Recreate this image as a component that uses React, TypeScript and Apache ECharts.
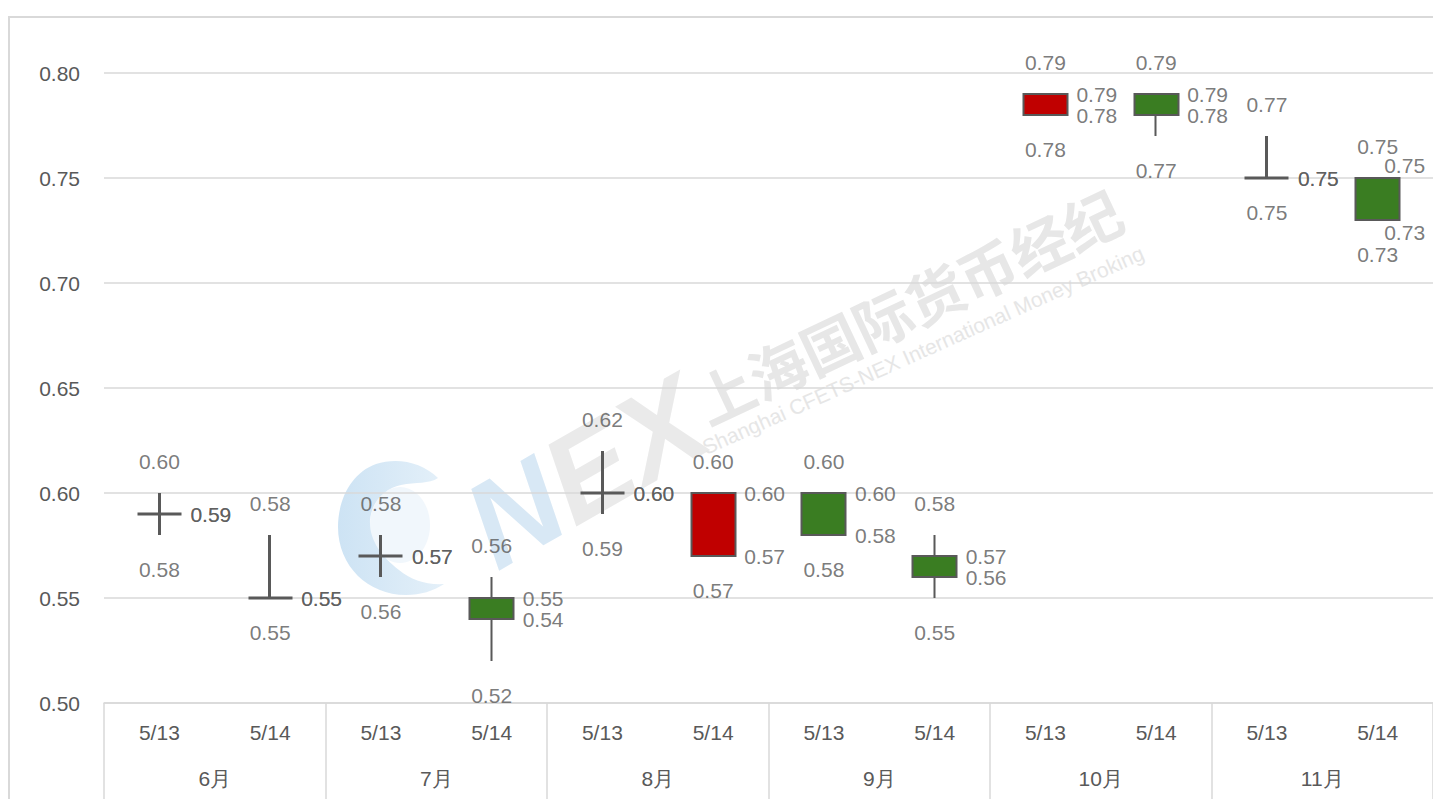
import { useEffect, useRef } from 'react';
import * as echarts from 'echarts';

const dates = ['5/13', '5/14', '5/13', '5/14', '5/13', '5/14', '5/13', '5/14', '5/13', '5/14', '5/13', '5/14'];
const months = ['6月', '7月', '8月', '9月', '10月', '11月'];
const openV = [0.59, 0.55, 0.57, 0.55, 0.60, 0.57, 0.60, 0.57, 0.78, 0.79, 0.75, 0.75];
const closeV = [0.59, 0.55, 0.57, 0.54, 0.60, 0.60, 0.58, 0.56, 0.79, 0.78, 0.75, 0.73];
const lowV = [0.58, 0.55, 0.56, 0.52, 0.59, 0.57, 0.58, 0.55, 0.78, 0.77, 0.75, 0.73];
const highV = [0.60, 0.58, 0.58, 0.56, 0.62, 0.60, 0.60, 0.58, 0.79, 0.79, 0.77, 0.75];
const yMin = 0.5;
const yMax = 0.8;
const yStep = 0.05;

const TEXT = '#595959';
const LINE = '#d9d9d9';
const FONT = '"Liberation Sans", Arial, sans-serif';
const FS = 21;

const SWIRL_D =
  'M438 478 C422 462 397 457 376 464 C351 473 338 500 338 527 C338 566 368 595 406 595 C421 595 433 591 444 584 C426 585 411 580 399 570 C381 556 369 540 370 520 C372 500 386 488 401 485 C416 482 429 484 438 478 Z';

let swirlRegistered = false;
function ensureSwirl() {
  if (swirlRegistered) return;
  echarts.graphic.registerShape('swirl', (echarts.graphic as any).extendPath(SWIRL_D, {}));
  swirlRegistered = true;
}

export default function App() {
  const ref = useRef<HTMLDivElement>(null);

  useEffect(() => {
    if (!ref.current) return;
    ensureSwirl();
    const chart = echarts.init(ref.current, undefined, { renderer: 'svg' });
    const lastIdx = openV.length - 1;
    const fmt = (p: any) => Number(p.value[1]).toFixed(2);
    const baseLabel = { show: true, formatter: fmt, color: TEXT, fontSize: FS, fontFamily: FONT };

    const labelSeries = (values: number[], label: any, override?: (i: number) => any) => ({
      type: 'scatter',
      silent: true,
      symbolSize: 0,
      clip: false,
      z: 5,
      data: values.map((v, i) => {
        const o = override ? override(i) : null;
        return o ? { value: [i, v], label: o } : { value: [i, v] };
      }),
      label: { ...baseLabel, ...label },
    });

    const option: any = {
      animation: false,
      backgroundColor: '#ffffff',
      grid: { left: 104, top: 73, width: 1332, height: 630, containLabel: false },
      graphic: [
        {
          type: 'rect',
          z: -10,
          shape: { x: 9, y: 17, width: 1600, height: 1000 },
          style: { fill: 'none', stroke: LINE, lineWidth: 2 },
          silent: true,
        },
        {
          type: 'ellipse',
          z: -6,
          silent: true,
          shape: { cx: 400, cy: 525, rx: 30, ry: 38 },
          style: { fill: '#f1f7fc' },
        },
        {
          type: 'swirl',
          z: -5,
          silent: true,
          x: 0,
          y: 0,
          style: {
            fill: {
              type: 'linear',
              x: 0,
              y: 0,
              x2: 1,
              y2: 0,
              colorStops: [
                { offset: 0, color: '#cde3f4' },
                { offset: 1, color: '#e4f0f9' },
              ],
            },
          },
        },
        {
          type: 'text',
          z: -5,
          silent: true,
          x: 586,
          y: 472,
          rotation: 0.52,
          style: {
            text: '{n|N}{ex|EX}',
            align: 'center',
            verticalAlign: 'middle',
            rich: {
              n: { fill: '#d8e8f5', fontSize: 123, fontWeight: 'bold', fontStyle: 'italic', fontFamily: FONT },
              ex: { fill: '#eaeaea', fontSize: 123, fontWeight: 'bold', fontStyle: 'italic', fontFamily: FONT },
            },
          },
        },
        {
          type: 'text',
          z: -5,
          silent: true,
          x: 908,
          y: 305,
          rotation: 0.44,
          style: {
            text: '上海国际货币经纪',
            align: 'center',
            verticalAlign: 'middle',
            fill: '#e7e7e7',
            fontSize: 58,
            fontWeight: 'bold',
            fontFamily: '"Noto Sans CJK SC", sans-serif',
          },
        },
        {
          type: 'text',
          z: -5,
          silent: true,
          x: 923,
          y: 350,
          rotation: 0.42,
          style: {
            text: 'Shanghai CFETS-NEX International Money Broking',
            align: 'center',
            verticalAlign: 'middle',
            fill: '#e6e6e6',
            fontSize: 21,
            fontFamily: FONT,
          },
        },
      ],
      xAxis: [
        {
          type: 'category',
          data: dates,
          position: 'bottom',
          boundaryGap: true,
          axisLine: { show: true, lineStyle: { color: LINE, width: 1.5 } },
          axisTick: { show: false },
          axisLabel: { color: TEXT, fontSize: FS, fontFamily: FONT, margin: 19, interval: 0 },
          splitLine: { show: false },
        },
        {
          type: 'category',
          data: months,
          position: 'bottom',
          boundaryGap: true,
          axisLine: { show: false },
          axisTick: { show: true, length: 100, interval: 0, lineStyle: { color: LINE, width: 1.5 } },
          axisLabel: { color: TEXT, fontSize: FS, fontFamily: FONT, margin: 65, interval: 0 },
          splitLine: { show: false },
        },
      ],
      yAxis: {
        type: 'value',
        min: yMin,
        max: yMax,
        interval: yStep,
        axisLine: { show: false },
        axisTick: { show: false },
        axisLabel: {
          color: TEXT,
          fontSize: FS,
          fontFamily: FONT,
          margin: 24,
          formatter: (v: number) => v.toFixed(2),
        },
        splitLine: { show: true, lineStyle: { color: LINE, width: 1.5 } },
      },
      series: [
        {
          type: 'candlestick',
          barWidth: '40%',
          z: 3,
          data: openV.map((o, i) => {
            const item: any = { value: [o, closeV[i], lowV[i], highV[i]] };
            if (o === closeV[i]) item.itemStyle = { borderWidth: 3 };
            return item;
          }),
          itemStyle: {
            color: '#c00000',
            color0: '#3a7d22',
            borderColor: '#595959',
            borderColor0: '#595959',
            borderColorDoji: '#595959',
            borderWidth: 2,
          },
        },
        labelSeries(highV, { position: 'inside', offset: [0, -32] }),
        labelSeries(lowV, { position: 'inside', offset: [0, 34] }),
        labelSeries(openV, { position: 'right', distance: 31 }, (i) =>
          i === lastIdx ? { position: 'inside', offset: [27, -13] } : null
        ),
        labelSeries(closeV, { position: 'right', distance: 31 }, (i) =>
          i === lastIdx ? { position: 'inside', offset: [27, 12] } : null
        ),
      ],
    };
    chart.setOption(option);
    return () => chart.dispose();
  }, []);

  return (
    <div
      ref={ref}
      style={{ position: 'fixed', left: 0, top: 0, width: 1433, height: 799, background: '#fff' }}
    />
  );
}
